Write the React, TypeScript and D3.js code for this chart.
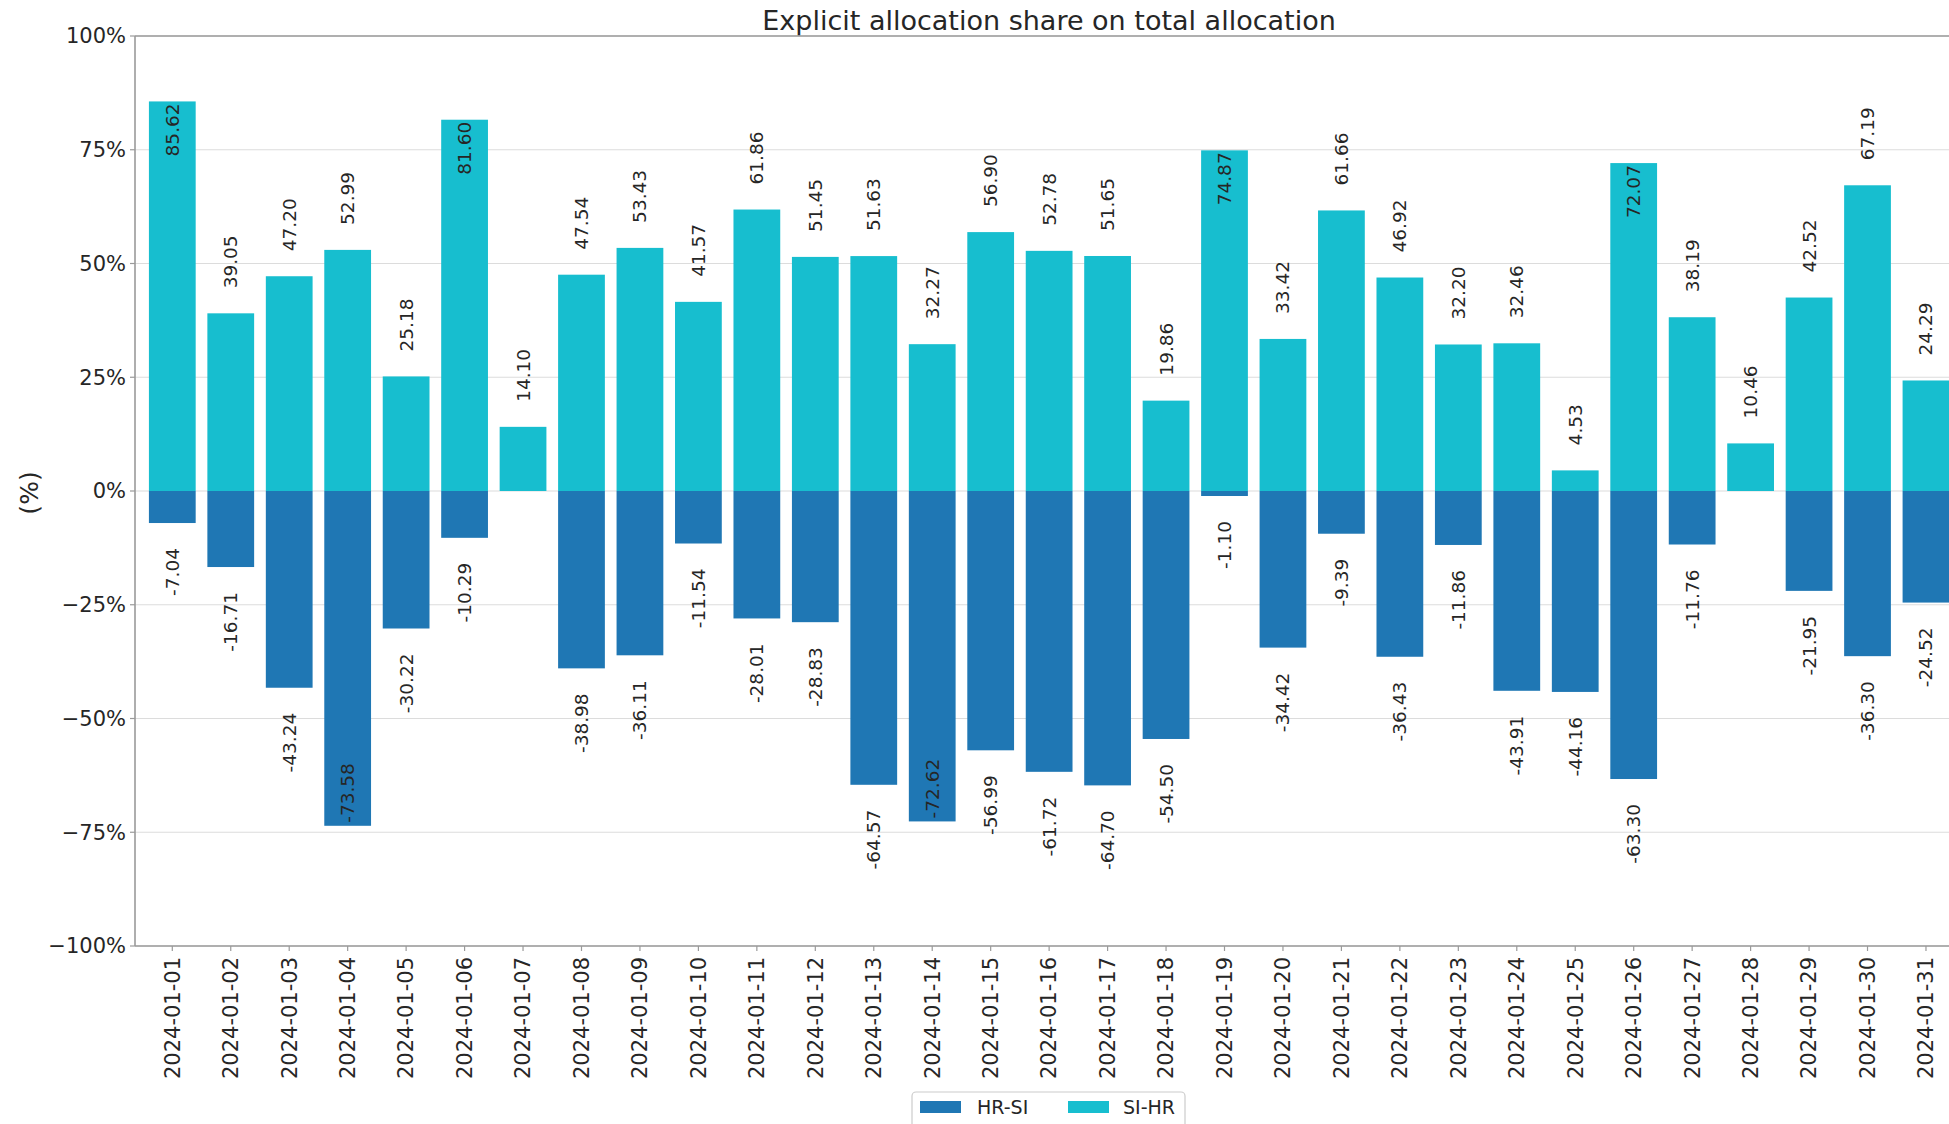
import React from 'react';
import * as d3 from 'd3';

const dates = Array.from({ length: 31 }, (_, i) => `2024-01-${String(i + 1).padStart(2, '0')}`);
const hrSi: (number | null)[] = [
  -7.04, -16.71, -43.24, -73.58, -30.22, -10.29, null, -38.98, -36.11, -11.54,
  -28.01, -28.83, -64.57, -72.62, -56.99, -61.72, -64.70, -54.50, -1.10, -34.42,
  -9.39, -36.43, -11.86, -43.91, -44.16, -63.30, -11.76, null, -21.95, -36.30, -24.52,
];
const siHr: number[] = [
  85.62, 39.05, 47.20, 52.99, 25.18, 81.60, 14.10, 47.54, 53.43, 41.57,
  61.86, 51.45, 51.63, 32.27, 56.90, 52.78, 51.65, 19.86, 74.87, 33.42,
  61.66, 46.92, 32.20, 32.46, 4.53, 72.07, 38.19, 10.46, 42.52, 67.19, 24.29,
];
const yTicks = [-100, -75, -50, -25, 0, 25, 50, 75, 100];
const seriesNames = ['HR-SI', 'SI-HR'];
const colors = ['#1f77b4', '#17becf'];

const W = 1949;
const H = 1124;
const plotLeft = 135;
const plotTop = 36;
const plotBottom = 946;
const plotRight = 1963;
const FONT = 'DejaVu Sans, sans-serif';
const TXT = '#262626';
const SPINE = '#9a9a9a';

export default function App() {
  const x = d3.scaleBand<string>().domain(dates).range([143.07, 1955.2]).paddingInner(0.2).paddingOuter(0.1);
  const y = d3.scaleLinear().domain([-100, 100]).range([plotBottom, plotTop]);
  const bw = x.bandwidth();
  const y0 = y(0);
  const gap = 25;

  const label = (v: number, d: string, key: string) => {
    const cx = (x(d) as number) + bw / 2;
    const yv = y(v);
    const inside = Math.abs(v) > 70;
    let ay: number;
    let anchor: string;
    if (v >= 0) {
      if (inside) { ay = yv + 2; anchor = 'end'; } else { ay = yv - gap; anchor = 'start'; }
    } else {
      if (inside) { ay = yv - 3; anchor = 'start'; } else { ay = yv + gap; anchor = 'end'; }
    }
    return (
      <text key={key} transform={`translate(${cx},${ay}) rotate(-90)`} textAnchor={anchor}
        dy="0.35em" fontSize={18.5} fontFamily={FONT} fill={TXT}>{v.toFixed(2)}</text>
    );
  };

  return (
    <svg width={W} height={H} style={{ position: 'absolute', left: 0, top: 0, background: '#fff' }}>
      <rect x={0} y={0} width={W} height={H} fill="#fff" />
      <text x={(plotLeft + plotRight) / 2} y={30} textAnchor="middle" fontSize={27} fontFamily={FONT} fill={TXT}>
        Explicit allocation share on total allocation
      </text>
      {/* grid */}
      {yTicks.map((t) => (
        <line key={`g${t}`} x1={plotLeft} x2={plotRight} y1={y(t)} y2={y(t)} stroke="#dcdcdc" strokeWidth={1.2} />
      ))}
      {/* bars */}
      {dates.map((d, i) => (
        <g key={d}>
          <rect x={x(d)} width={bw} y={y(siHr[i])} height={y0 - y(siHr[i])} fill={colors[1]} />
          {hrSi[i] !== null && (
            <rect x={x(d)} width={bw} y={y0} height={y(hrSi[i] as number) - y0} fill={colors[0]} />
          )}
        </g>
      ))}
      {/* labels */}
      {dates.map((d, i) => (
        <g key={`l${d}`}>
          {label(siHr[i], d, `s${d}`)}
          {hrSi[i] !== null && label(hrSi[i] as number, d, `h${d}`)}
        </g>
      ))}
      {/* spines */}
      <line x1={plotLeft} x2={plotLeft} y1={plotTop} y2={plotBottom} stroke={SPINE} strokeWidth={1.6} />
      <line x1={plotLeft} x2={W} y1={plotTop} y2={plotTop} stroke={SPINE} strokeWidth={1.6} />
      <line x1={plotLeft} x2={W} y1={plotBottom} y2={plotBottom} stroke={SPINE} strokeWidth={1.6} />
      {/* y ticks */}
      {yTicks.map((t) => (
        <g key={`yt${t}`}>
          <line x1={plotLeft - 5} x2={plotLeft} y1={y(t)} y2={y(t)} stroke={SPINE} strokeWidth={1.2} />
          <text x={plotLeft - 9} y={y(t)} dy="0.35em" textAnchor="end" fontSize={21} fontFamily={FONT} fill={TXT}>
            {`${t < 0 ? '\u2212' : ''}${Math.abs(t)}%`}
          </text>
        </g>
      ))}
      {/* x ticks */}
      {dates.map((d) => {
        const cx = (x(d) as number) + bw / 2;
        return (
          <g key={`xt${d}`}>
            <line x1={cx} x2={cx} y1={plotBottom} y2={plotBottom + 5} stroke={SPINE} strokeWidth={1.2} />
            <text transform={`translate(${cx},${plotBottom + 11}) rotate(-90)`} textAnchor="end" dy="0.35em"
              fontSize={21} fontFamily={FONT} fill={TXT}>{d}</text>
          </g>
        );
      })}
      {/* y label */}
      <text transform={`translate(29.5,${y0 + 2}) rotate(-90)`} textAnchor="middle" dy="0.35em" fontSize={25} fontFamily={FONT} fill={TXT}>(%)</text>
      {/* legend */}
      <g>
        <rect x={912} y={1092} width={273} height={38} rx={4} fill="#fff" stroke="#cccccc" strokeWidth={1.2} />
        {seriesNames.map((s, i) => (
          <g key={s}>
            <rect x={920 + i * 148} y={1101} width={41} height={12} fill={colors[i]} />
            <text x={977 + i * 146} y={1114} fontSize={19} fontFamily={FONT} fill={TXT}>{s}</text>
          </g>
        ))}
      </g>
    </svg>
  );
}
